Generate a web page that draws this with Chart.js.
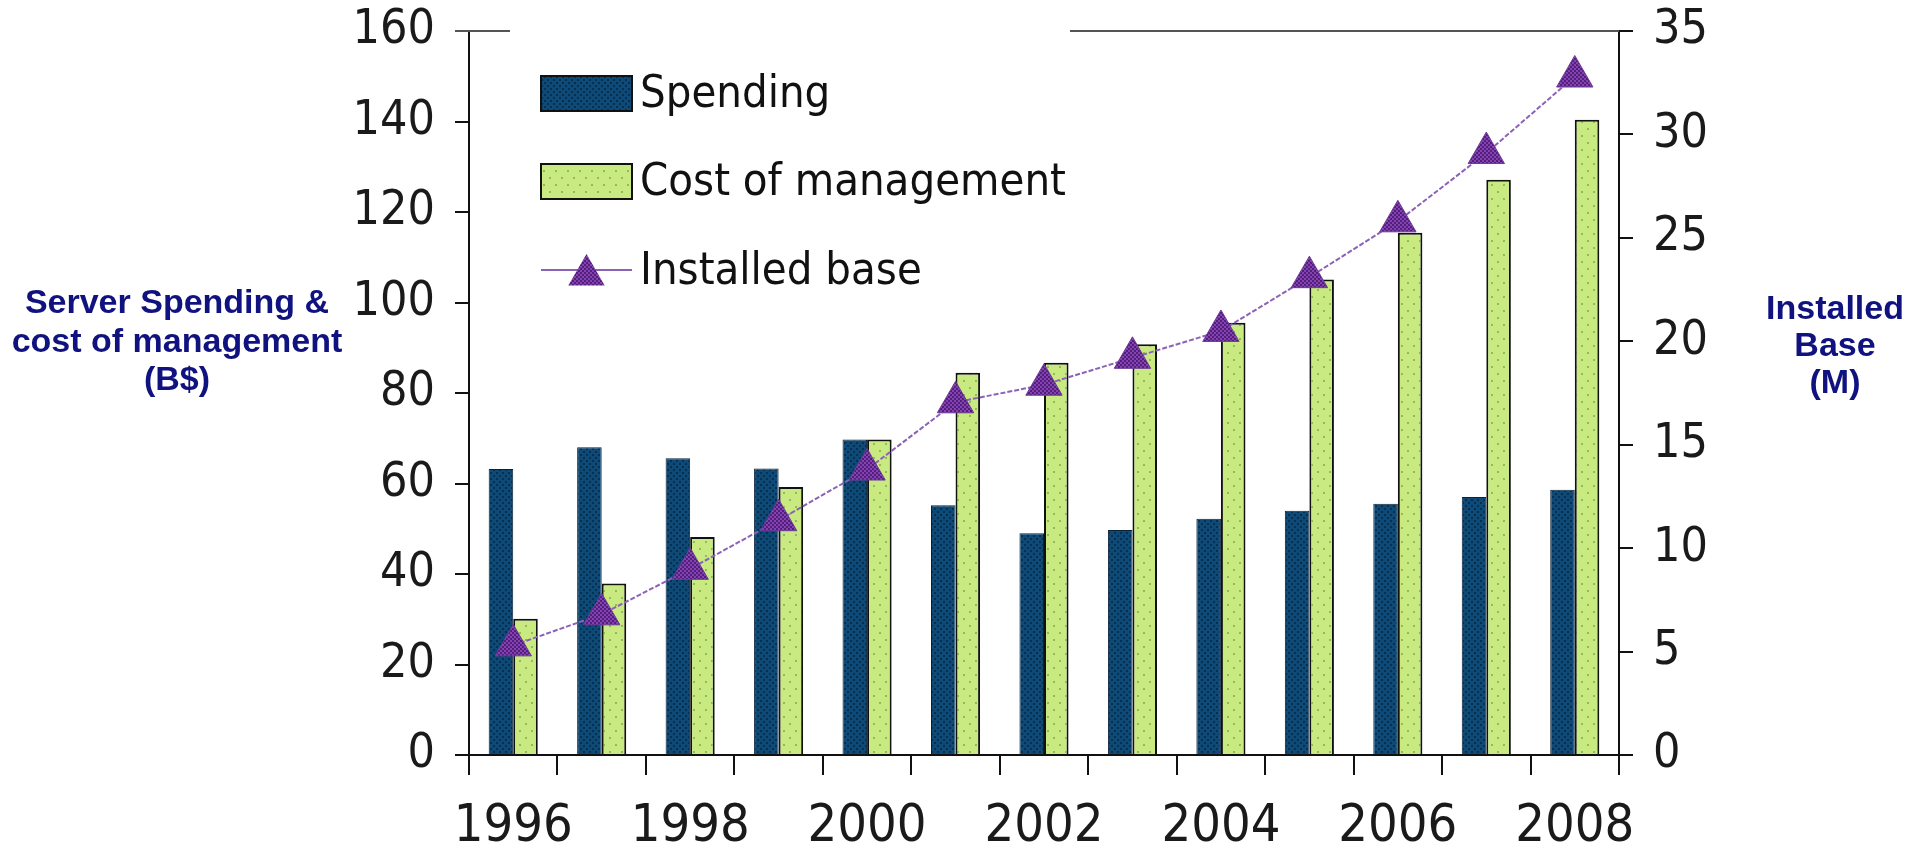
<!DOCTYPE html>
<html>
<head>
<meta charset="utf-8">
<script src="https://cdn.jsdelivr.net/npm/chart.js@4.4.1/dist/chart.umd.min.js"></script>
<style>
  body { margin: 0; background: #fff; }
  #wrap { position: relative; width: 1929px; height: 858px; }
  .ytitle {
    position: absolute;
    font-family: "Liberation Sans", Arial, sans-serif;
    font-weight: bold;
    font-size: 34px;
    line-height: 38.5px;
    color: #10127f;
    text-align: center;
    white-space: nowrap;
  }
</style>
</head>
<body>
<div id="wrap">
  <canvas id="chart" width="1929" height="858"></canvas>
  <div class="ytitle" id="leftTitle" style="left:0px; width:354px; top:282px;">Server Spending &amp;<br>cost of management<br>(B$)</div>
  <div class="ytitle" id="rightTitle" style="left:1735px; width:200px; top:289px; line-height:37px;">Installed<br>Base<br>(M)</div>
</div>
<script>
var years = ["1996","1997","1998","1999","2000","2001","2002","2003","2004","2005","2006","2007","2008"]
var spending = [63.2, 68.0, 65.6, 63.3, 69.7, 55.2, 49.0, 49.7, 52.2, 54.0, 55.5, 57.0, 58.6]
var cost_of_management = [30.1, 37.9, 48.2, 59.2, 69.7, 84.5, 86.7, 90.8, 95.5, 105.1, 115.4, 127.1, 140.4]
var installed_base = [5.3, 6.8, 9.0, 11.35, 13.8, 17.05, 17.9, 19.2, 20.5, 23.1, 25.8, 29.1, 32.8]

var left_ticks_max = 160
var right_ticks_max = 35

var tickFont = '"Liberation Sans Narrow", "Arial Narrow", "DejaVu Sans Condensed", sans-serif'

// small dotted fills like the original office chart
function makePattern(base, dot, w, h, dots){
    var c = document.createElement('canvas')
    c.width = w
    c.height = h
    var g = c.getContext('2d')
    g.fillStyle = base
    g.fillRect(0, 0, w, h)
    g.fillStyle = dot
    for (var i = 0; i < dots.length; i++){
        g.fillRect(dots[i][0], dots[i][1], 2, 2)
    }
    return g.createPattern(c, 'repeat')
}

var ctx = document.getElementById('chart').getContext('2d')
var darkFill = makePattern('#0e4a78', '#07304f', 6, 6, [[1,1],[4,4]])
var greenFill = makePattern('#c8ea80', '#93b95e', 12, 14, [[3,2],[9,9]])
var purpleFill = makePattern('#8442b2', '#52207a', 4, 4, [[0,0],[2,2]])

var legendItems = [
    {label: "Spending", kind: "box", fill: darkFill},
    {label: "Cost of management", kind: "box", fill: greenFill},
    {label: "Installed base", kind: "line", fill: purpleFill}
]

function triangle(g, x, y, r){
    g.beginPath()
    g.moveTo(x, y - r)
    g.lineTo(x + Math.sin(2 * Math.PI / 3) * r, y - Math.cos(2 * Math.PI / 3) * r)
    g.lineTo(x + Math.sin(4 * Math.PI / 3) * r, y - Math.cos(4 * Math.PI / 3) * r)
    g.closePath()
}

// the y scales ask for label room above the top tick; the original has none
function fixYPadding(scale, w){
    scale.width = w
    scale.paddingTop = 0
    scale.paddingBottom = 0
}

var decorPlugin = {
    id: 'decor',
    afterDraw: function(chart){
        var g = chart.ctx
        var a = chart.chartArea
        g.save()
        // top frame line, broken where the legend sits
        g.strokeStyle = '#555'
        g.lineWidth = 2
        g.beginPath()
        g.moveTo(a.left - 14, a.top)
        g.lineTo(510, a.top)
        g.moveTo(1070, a.top)
        g.lineTo(a.right, a.top)
        g.stroke()

        // legend
        var sx = 541, sw = 91
        var rows = [93.5, 181.5, 270]
        g.font = '45px ' + tickFont
        g.textBaseline = 'middle'
        for (var i = 0; i < legendItems.length; i++){
            var it = legendItems[i]
            var cy = rows[i]
            if (it.kind == "box"){
                g.fillStyle = it.fill
                g.fillRect(sx, cy - 17.5, sw, 35)
                g.strokeStyle = '#111'
                g.lineWidth = 2
                g.strokeRect(sx, cy - 17.5, sw, 35)
            } else {
                g.strokeStyle = '#8b62b8'
                g.lineWidth = 2
                g.beginPath()
                g.moveTo(sx, cy)
                g.lineTo(sx + sw, cy)
                g.stroke()
                triangle(g, sx + sw / 2, cy + 5, 21)
                g.fillStyle = it.fill
                g.fill()
            }
            g.fillStyle = '#111'
            g.fillText(it.label, 640, cy + 2)
        }
        g.restore()
    }
}

var chart = new Chart(ctx, {
    type: 'bar',
    data: {
        labels: years,
        datasets: [{
            type: 'line',
            label: 'Installed base',
            data: installed_base,
            yAxisID: 'y1',
            order: 0,
            borderColor: '#8b62b8',
            borderWidth: 2,
            borderDash: [5, 2],
            pointStyle: 'triangle',
            pointRadius: 21,
            pointBackgroundColor: purpleFill,
            pointBorderColor: '#6e3a98',
            pointBorderWidth: 1,
            tension: 0
        }, {
            label: 'Spending',
            data: spending,
            yAxisID: 'y',
            order: 1,
            backgroundColor: darkFill,
            borderColor: '#0a2236',
            borderWidth: 1,
            categoryPercentage: 0.555,
            barPercentage: 1
        }, {
            label: 'Cost of management',
            data: cost_of_management,
            yAxisID: 'y',
            order: 1,
            backgroundColor: greenFill,
            borderColor: '#111',
            borderWidth: 2,
            categoryPercentage: 0.555,
            barPercentage: 1
        }]
    },
    options: {
        responsive: false,
        animation: false,
        layout: {padding: {top: 31, left: 0, right: 0, bottom: 0}},
        plugins: {
            legend: {display: false},
            tooltip: {enabled: false}
        },
        scales: {
            x: {
                grid: {display: true, drawOnChartArea: false, drawTicks: true, tickLength: 20, color: '#111', lineWidth: 2, offset: true},
                border: {display: true, color: '#111', width: 2},
                ticks: {
                    autoSkip: false,
                    maxRotation: 0,
                    padding: 21,
                    color: '#1a1a1a',
                    font: {family: tickFont, size: 52},
                    callback: function(value, index){
                        return index % 2 == 0 ? this.getLabelForValue(value) : ''
                    }
                },
                afterFit: function(scale){ scale.height = 103 }
            },
            y: {
                position: 'left',
                min: 0,
                max: left_ticks_max,
                grid: {drawOnChartArea: false, drawTicks: true, tickLength: 14, color: '#111', lineWidth: 2},
                border: {display: true, color: '#111', width: 2},
                ticks: {stepSize: 20, padding: 20, color: '#1a1a1a', font: {family: tickFont, size: 48}},
                afterFit: function(scale){ fixYPadding(scale, 469) }
            },
            y1: {
                position: 'right',
                min: 0,
                max: right_ticks_max,
                grid: {drawOnChartArea: false, drawTicks: true, tickLength: 14, color: '#111', lineWidth: 2},
                border: {display: true, color: '#111', width: 2},
                ticks: {stepSize: 5, padding: 20, color: '#1a1a1a', font: {family: tickFont, size: 48}},
                afterFit: function(scale){ fixYPadding(scale, 310) }
            }
        }
    },
    plugins: [decorPlugin]
})
</script>
</body>
</html>
